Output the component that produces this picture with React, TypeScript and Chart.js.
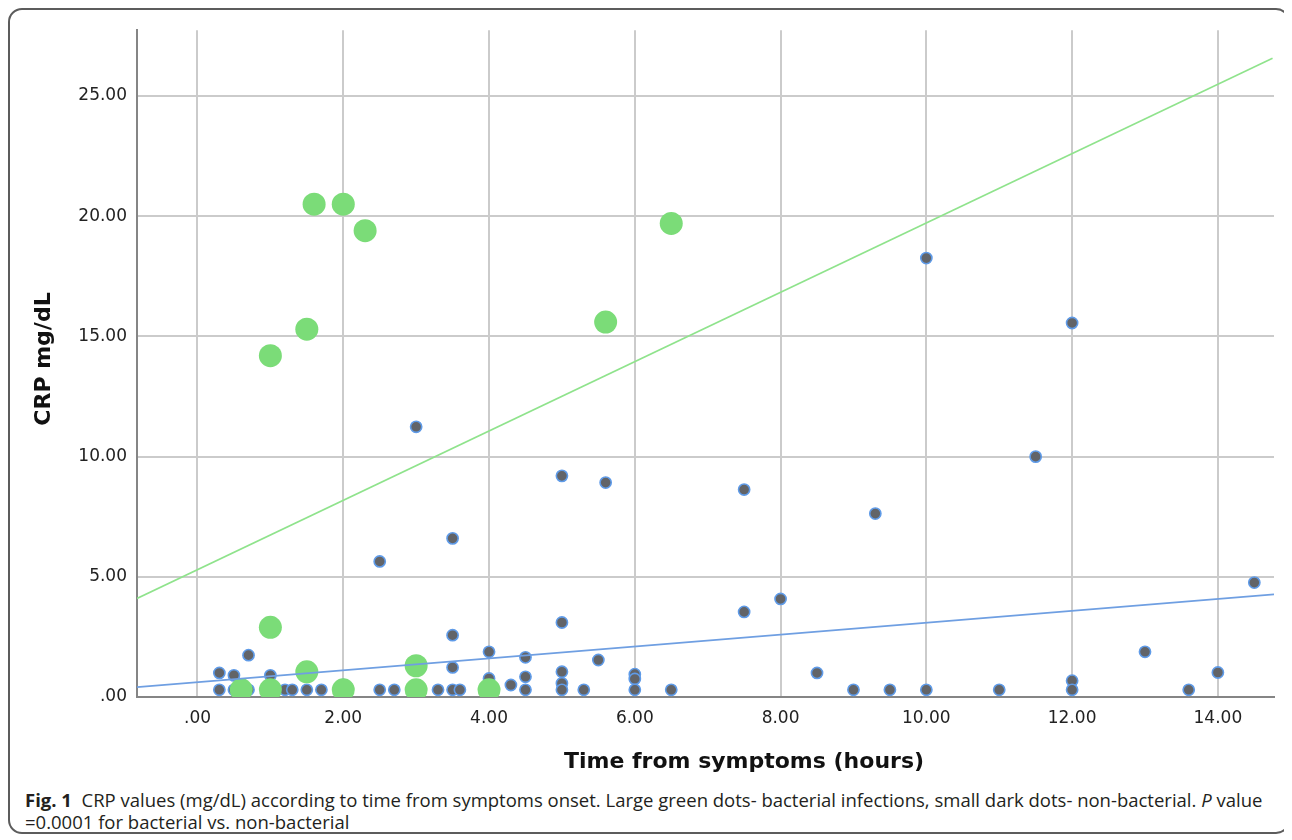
import React, { useEffect, useRef } from "react";
import { Chart, registerables } from "chart.js";

Chart.register(...registerables);

// ---- data ----
const xTickValues = [0, 2, 4, 6, 8, 10, 12, 14];
const yTickValues = [0, 5, 10, 15, 20, 25];

// Large green dots: bacterial infections
const bacterialX = [1.6, 2.0, 2.3, 6.5, 1.5, 1.0, 5.6, 1.0, 1.5, 3.0, 0.6, 1.0, 2.0, 3.0, 4.0];
const bacterialY = [20.5, 20.5, 19.4, 19.7, 15.3, 14.2, 15.6, 2.9, 1.05, 1.3, 0.3, 0.3, 0.3, 0.3, 0.3];

// Small dark dots: non-bacterial
const nonBacterialX = [
  0.3, 0.3, 0.5, 0.5, 0.7, 0.7, 1.0, 1.0, 1.2, 1.3, 1.5, 1.7, 2.0, 2.5, 2.5, 2.7,
  3.0, 3.3, 3.5, 3.5, 3.5, 3.5, 3.6, 4.0, 4.0, 4.0, 4.3, 4.5, 4.5, 4.5,
  5.0, 5.0, 5.0, 5.0, 5.0, 5.3, 5.5, 5.6, 6.0, 6.0, 6.0, 6.5,
  7.5, 7.5, 8.0, 8.5, 9.0, 9.3, 9.5, 10.0, 10.0, 11.0, 11.5,
  12.0, 12.0, 12.0, 13.0, 13.6, 14.0, 14.5,
];
const nonBacterialY = [
  1.0, 0.3, 0.9, 0.3, 1.74, 0.3, 0.9, 0.3, 0.3, 0.3, 0.3, 0.3, 0.5, 5.64, 0.3, 0.3,
  11.24, 0.3, 6.6, 2.57, 1.23, 0.3, 0.3, 1.88, 0.77, 0.3, 0.5, 1.65, 0.84, 0.3,
  9.2, 3.1, 1.05, 0.57, 0.3, 0.3, 1.54, 8.92, 0.95, 0.75, 0.3, 0.3,
  8.63, 3.54, 4.08, 1.0, 0.3, 7.63, 0.3, 18.26, 0.3, 0.3, 10.0,
  15.56, 0.68, 0.3, 1.88, 0.3, 1.02, 4.76,
];

// Fit lines (end points)
const bacterialFitX = [-0.83, 14.75];
const bacterialFitY = [4.1, 26.57];
const nonBacterialFitX = [-0.83, 14.77];
const nonBacterialFitY = [0.41, 4.27];

const xAxisRange = [-0.83, 14.77];
const yAxisRange = [0, 27.74];

const xTitle = "Time from symptoms (hours)";
const yTitle = "CRP mg/dL";

const zip = (xs: number[], ys: number[]) => xs.map((x, i) => ({ x, y: ys[i] }));
const fmt = (v: number) => (v === 0 ? ".00" : v.toFixed(2));

const CANVAS_W = 1278;
const CANVAS_H = 770;

const axisTitlesPlugin = {
  id: "axisTitles",
  afterDraw(chart: any) {
    const ctx = chart.ctx as CanvasRenderingContext2D;
    ctx.save();
    ctx.fillStyle = "#111";
    ctx.font = 'bold 22px "DejaVu Sans"';
    ctx.textAlign = "center";
    ctx.textBaseline = "middle";
    ctx.fillText(xTitle, 734, 752);
    ctx.translate(34, 349);
    ctx.rotate(-Math.PI / 2);
    ctx.fillText(yTitle, 0, 0);
    ctx.restore();
  },
};

function ScatterChart() {
  const ref = useRef<HTMLCanvasElement | null>(null);
  useEffect(() => {
    if (!ref.current) return;
    const chart = new Chart(ref.current, {
      type: "scatter",
      data: {
        datasets: [
          {
            type: "line",
            data: zip(bacterialFitX, bacterialFitY),
            borderColor: "#8fe38c",
            borderWidth: 1.6,
            pointRadius: 0,
            fill: false,
            order: 0,
          } as any,
          {
            type: "line",
            data: zip(nonBacterialFitX, nonBacterialFitY),
            borderColor: "#6f9fe2",
            borderWidth: 1.6,
            pointRadius: 0,
            fill: false,
            order: 0,
          } as any,
          {
            data: zip(bacterialX, bacterialY),
            backgroundColor: "#7bdc78",
            borderWidth: 0,
            pointRadius: 11.5,
            order: 1,
          },
          {
            data: zip(nonBacterialX, nonBacterialY),
            backgroundColor: "#626468",
            borderColor: "#5f9be8",
            borderWidth: 1.6,
            pointRadius: 5.6,
            order: 2,
          },
        ],
      },
      options: {
        responsive: false,
        animation: false,
        events: [],
        layout: { padding: { left: 0, top: 18, right: CANVAS_W - 1264, bottom: 0 } },
        plugins: { legend: { display: false }, tooltip: { enabled: false } },
        scales: {
          x: {
            type: "linear",
            min: xAxisRange[0],
            max: xAxisRange[1],
            afterBuildTicks: (s: any) => {
              s.ticks = xTickValues.map((v) => ({ value: v }));
            },
            afterFit: (s: any) => {
              s.height = CANVAS_H - 687;
            },
            grid: { color: "#cbcbcb", lineWidth: 2, drawTicks: false },
            border: { color: "#858585", width: 2 },
            ticks: {
              padding: 11,
              color: "#222",
              font: { family: '"DejaVu Sans"', size: 17 },
              callback: (v: any) => fmt(Number(v)),
              maxRotation: 0,
              autoSkip: false,
            },
          },
          y: {
            type: "linear",
            min: yAxisRange[0],
            max: yAxisRange[1],
            afterBuildTicks: (s: any) => {
              s.ticks = yTickValues.map((v) => ({ value: v }));
            },
            afterFit: (s: any) => {
              s.width = 127;
            },
            grid: { color: "#cbcbcb", lineWidth: 2, drawTicks: false },
            border: { color: "#858585", width: 2 },
            ticks: {
              padding: 10,
              color: "#222",
              font: { family: '"DejaVu Sans"', size: 17 },
              callback: (v: any) => fmt(Number(v)),
              autoSkip: false,
            },
          },
        },
      },
      plugins: [axisTitlesPlugin],
    } as any);
    return () => chart.destroy();
  }, []);
  return (
    <canvas
      ref={ref}
      width={CANVAS_W}
      height={CANVAS_H}
      style={{ position: "absolute", left: 0, top: 0, width: CANVAS_W, height: CANVAS_H }}
    />
  );
}

export default function App() {
  return (
    <div
      style={{
        position: "relative",
        width: 1282,
        height: 826,
        boxSizing: "border-box",
        border: "2px solid #5c5c5c",
        borderRadius: 14,
        background: "#fff",
      }}
    >
      <ScatterChart />
      <div
        style={{
          position: "absolute",
          left: 15,
          top: 779,
          width: 1260,
          fontFamily: '"Open Sans", sans-serif',
          fontSize: 18.5,
          lineHeight: "22px",
          color: "#231f20",
          whiteSpace: "nowrap",
        }}
      >
        <b>Fig. 1</b>
        {"\u00a0\u00a0CRP values (mg/dL) according to time from symptoms onset. Large green dots- bacterial infections, small dark dots- non-bacterial. "}
        <i>P</i>
        {" value"}
        <br />
        {"=0.0001 for bacterial vs. non-bacterial"}
      </div>
    </div>
  );
}
